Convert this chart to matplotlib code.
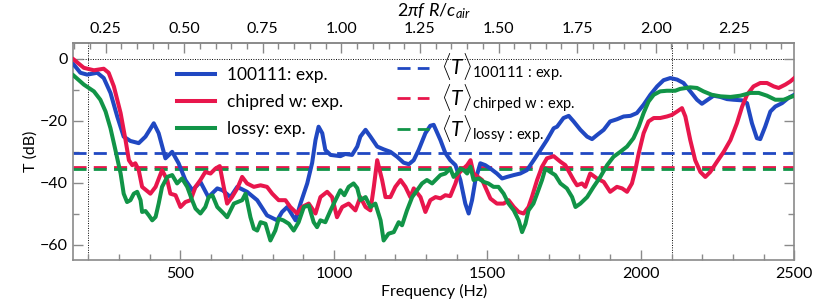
import numpy as np
import matplotlib
matplotlib.use("Agg")
import matplotlib.pyplot as plt
from matplotlib.ticker import MultipleLocator

plt.rcParams['font.family'] = ['Lato', 'DejaVu Sans']
plt.rcParams['mathtext.fontset'] = 'custom'
plt.rcParams['mathtext.rm'] = 'Lato'
plt.rcParams['mathtext.it'] = 'Lato:italic'

# measured transmission (dB) vs frequency (Hz)
f_100111 = [152, 174, 196, 229, 250, 272, 294, 315, 337, 364, 386, 413, 429, 451, 473, 494, 516,
            539, 565, 591, 620, 637, 663, 685, 717, 750, 782, 815, 831, 848, 875, 891, 913, 929,
            940, 950, 962, 972, 989, 1005, 1021, 1037, 1059, 1076, 1086, 1103, 1119, 1141, 1162,
            1184, 1206, 1227, 1244, 1260, 1276, 1298, 1314, 1325, 1347, 1363, 1379, 1396, 1412,
            1428, 1439, 1450, 1461, 1477, 1493, 1510, 1531, 1548, 1564, 1586, 1607, 1629, 1651,
            1673, 1694, 1716, 1727, 1748, 1765, 1781, 1803, 1825, 1841, 1857, 1879, 1900, 1922,
            1944, 1966, 1987, 2009, 2031, 2053, 2074, 2096, 2118, 2139, 2161, 2183, 2199, 2215,
            2237, 2259, 2281, 2302, 2330, 2346, 2362, 2378, 2389, 2405, 2422, 2438, 2460, 2481,
            2500]
T_100111 = [-1.9, -4.6, -5.2, -4.6, -6.3, -11.1, -18.7, -25.2, -26.6, -27.3, -25.2, -20.9, -24.1,
            -32.2, -30.1, -33.8, -39.2, -42.5, -39.8, -44.7, -41.9, -42.5, -44.7, -41.4, -43.0,
            -45.7, -50.6, -52.2, -49.5, -47.9, -52.2, -46.8, -40.3, -33.7, -26.3, -22.0, -24.1,
            -29.5, -31.1, -31.3, -31.5, -30.8, -31.1, -28.4, -25.2, -23.0, -25.2, -28.4, -29.3,
            -30.1, -31.7, -33.6, -34.1, -32.8, -29.5, -24.1, -21.7, -21.4, -26.3, -30.5, -32.8,
            -34.4, -39.2, -46.8, -50.0, -45.7, -39.2, -33.8, -34.4, -35.5, -37.1, -38.7, -38.2,
            -37.6, -37.1, -36.0, -32.8, -29.5, -26.3, -22.5, -22.0, -19.2, -18.5, -20.3, -23.0,
            -25.2, -26.0, -24.7, -23.0, -20.3, -19.6, -18.7, -18.5, -17.6, -14.9, -11.7, -9.0,
            -7.0, -6.3, -6.8, -7.9, -10.6, -13.3, -14.6, -13.5, -12.0, -12.4, -13.1, -13.3,
            -13.5, -14.4, -20.9, -25.7, -26.0, -22.0, -17.1, -15.5, -14.4, -12.7, -11.7]

f_chirped = [152, 185, 218, 250, 266, 283, 305, 321, 332, 343, 353, 364, 375, 402, 419, 440, 457,
             467, 484, 500, 516, 533, 549, 565, 581, 598, 614, 628, 641, 652, 668, 685, 701, 717,
             739, 761, 782, 799, 820, 842, 858, 880, 896, 918, 940, 956, 978, 994, 1010, 1027,
             1048, 1070, 1086, 1103, 1119, 1130, 1141, 1157, 1168, 1184, 1200, 1217, 1233, 1249,
             1260, 1282, 1298, 1314, 1331, 1347, 1363, 1379, 1396, 1406, 1417, 1434, 1445, 1455,
             1483, 1493, 1510, 1531, 1553, 1569, 1586, 1602, 1618, 1634, 1645, 1662, 1678, 1694,
             1716, 1738, 1754, 1781, 1792, 1808, 1819, 1835, 1857, 1879, 1900, 1922, 1939, 1955,
             1971, 1982, 1993, 2009, 2025, 2042, 2063, 2085, 2101, 2118, 2134, 2145, 2161, 2177,
             2194, 2210, 2226, 2248, 2270, 2292, 2313, 2330, 2346, 2367, 2389, 2411, 2433, 2449,
             2471, 2487, 2500]
T_chirped = [-0.3, -3.0, -3.8, -3.3, -4.6, -9.0, -17.6, -26.3, -32.8, -34.4, -33.8, -36.0, -41.4,
             -43.6, -41.4, -36.0, -39.2, -43.6, -44.1, -47.9, -46.3, -45.7, -41.4, -39.2, -36.6,
             -37.1, -35.5, -34.7, -41.4, -46.8, -44.7, -41.9, -38.2, -40.3, -41.4, -40.9, -41.4,
             -43.6, -45.7, -45.7, -47.9, -50.0, -47.9, -46.8, -50.0, -44.7, -43.0, -44.7, -51.2,
             -47.9, -46.8, -49.0, -44.7, -47.9, -49.0, -41.4, -32.8, -39.2, -44.7, -44.7, -41.4,
             -39.2, -41.4, -44.7, -41.9, -44.7, -49.5, -45.7, -44.7, -45.1, -44.1, -44.4, -40.3,
             -37.1, -36.0, -34.4, -32.8, -37.1, -39.2, -41.4, -45.2, -46.8, -46.8, -45.7, -47.9,
             -49.5, -50.0, -47.9, -44.7, -39.2, -34.9, -32.2, -31.5, -33.3, -34.4, -39.2, -40.9,
             -40.3, -41.4, -37.1, -38.7, -39.8, -43.0, -41.4, -41.9, -43.0, -40.3, -36.0, -30.6,
             -24.1, -20.3, -19.2, -19.2, -18.7, -18.2, -17.1, -16.0, -18.7, -26.3, -32.8, -36.6,
             -38.2, -36.6, -33.3, -30.1, -26.3, -20.9, -15.5, -11.7, -9.0, -7.9, -7.9, -9.0, -9.5,
             -8.4, -7.4, -6.3]

f_lossy = [152, 185, 218, 239, 256, 272, 288, 305, 315, 326, 337, 348, 359, 370, 375, 386, 397,
           408, 419, 429, 440, 457, 473, 489, 505, 522, 538, 549, 565, 581, 592, 604, 620, 641,
           652, 674, 701, 712, 728, 739, 750, 761, 777, 793, 809, 820, 835, 853, 869, 885, 902,
           918, 934, 945, 956, 972, 989, 1005, 1021, 1034, 1048, 1064, 1076, 1086, 1103, 1119,
           1135, 1152, 1162, 1178, 1195, 1211, 1222, 1238, 1255, 1271, 1287, 1303, 1320, 1331,
           1347, 1363, 1379, 1390, 1401, 1412, 1423, 1434, 1445, 1455, 1471, 1488, 1503, 1520,
           1536, 1553, 1569, 1586, 1602, 1613, 1624, 1634, 1650, 1662, 1678, 1689, 1705, 1721,
           1738, 1759, 1776, 1787, 1803, 1825, 1846, 1868, 1890, 1911, 1933, 1955, 1976, 1993,
           2009, 2025, 2042, 2063, 2085, 2112, 2128, 2161, 2183, 2204, 2231, 2259, 2292, 2324,
           2357, 2384, 2411, 2438, 2465, 2500]
T_lossy = [-5.5, -8.4, -10.6, -13.3, -17.1, -22.5, -29.5, -37.1, -43.6, -46.3, -45.7, -43.6, -43.0,
           -45.7, -49.5, -49.2, -50.6, -52.2, -51.1, -46.8, -41.4, -38.2, -37.6, -40.3, -38.7,
           -41.4, -45.7, -48.4, -50.0, -47.9, -44.7, -44.1, -47.9, -50.0, -51.2, -46.8, -45.7,
           -43.6, -51.2, -54.9, -55.5, -52.8, -53.3, -58.7, -55.5, -51.7, -52.2, -53.3, -55.5,
           -52.8, -47.9, -47.4, -52.8, -54.4, -52.2, -52.8, -49.0, -45.7, -42.5, -44.1, -41.4,
           -40.3, -41.8, -45.7, -44.7, -47.9, -46.8, -52.2, -58.7, -56.5, -56.0, -52.8, -53.8,
           -49.0, -44.7, -42.5, -40.3, -39.2, -40.3, -39.2, -37.6, -37.1, -35.5, -38.2, -37.1,
           -35.5, -36.0, -37.1, -34.9, -39.2, -38.7, -39.8, -40.3, -41.4, -41.4, -43.6, -46.8,
           -49.0, -52.2, -56.0, -53.3, -49.0, -46.8, -43.6, -39.2, -35.5, -36.6, -37.6, -40.3,
           -41.9, -44.7, -47.9, -46.8, -44.7, -41.4, -38.2, -34.4, -31.7, -30.1, -28.4, -25.7,
           -22.0, -17.6, -13.9, -11.7, -10.6, -10.4, -10.4, -9.8, -9.3, -9.5, -10.6, -11.7,
           -12.2, -12.4, -12.0, -11.1, -11.1, -12.0, -13.3, -13.3, -12.0]

# frequency-averaged transmission
mean_100111 = -30.5
mean_chirped = -35.1
mean_lossy = -35.8

blue = '#2048c2'
red = '#e8164c'
green = '#119447'

R = 0.0533
c_air = 343.0

fig = plt.figure(figsize=(8.3, 3.05), dpi=100)
ax = fig.add_axes([0.088, 0.1475, 0.869, 0.7115])

lw = 2.9
l1, = ax.plot(f_100111, T_100111, color=blue, lw=lw, solid_joinstyle='round', label='100111: exp.', zorder=3)
l2, = ax.plot(f_chirped, T_chirped, color=red, lw=lw, solid_joinstyle='round', label='chipred w: exp.', zorder=3)
l3, = ax.plot(f_lossy, T_lossy, color=green, lw=lw, solid_joinstyle='round', label='lossy: exp.', zorder=3)

dash = (4.7, 2.6)
d1 = ax.axhline(mean_100111, color=blue, lw=2.0, dashes=dash, zorder=2)
d2 = ax.axhline(mean_chirped, color=red, lw=2.0, dashes=dash, zorder=2)
d3 = ax.axhline(mean_lossy, color=green, lw=2.0, dashes=dash, zorder=2)

ax.axhline(0, color='black', lw=0.7, ls=(0, (1, 1.5)), zorder=1)
ax.axvline(200, color='black', lw=0.7, ls=(0, (1, 1.5)), zorder=1)
ax.axvline(2100, color='black', lw=0.7, ls=(0, (1, 1.5)), zorder=1)

ax.set_xlim(150, 2500)
ax.set_ylim(-65, 5)
ax.set_xlabel('Frequency (Hz)', fontsize=11.5, labelpad=2)
ax.set_ylabel('T (dB)', fontsize=11.5, labelpad=2)
ax.xaxis.set_major_locator(MultipleLocator(500))
ax.xaxis.set_minor_locator(MultipleLocator(100))
ax.yaxis.set_major_locator(MultipleLocator(20))
ax.yaxis.set_minor_locator(MultipleLocator(10))

frame = '#8a8a8a'
for s in ax.spines.values():
    s.set_color(frame)
    s.set_linewidth(1.2)
ax.tick_params(which='both', direction='in', color=frame, labelsize=11.5, right=True, width=1.0)
ax.tick_params(which='major', length=7)
ax.tick_params(which='minor', length=4)
ax.tick_params(axis='x', pad=5)

top = ax.secondary_xaxis('top', functions=(lambda f: 2 * np.pi * f * R / c_air,
                                           lambda k: k * c_air / (2 * np.pi * R)))
top.xaxis.set_major_locator(MultipleLocator(0.25))
top.xaxis.set_minor_locator(MultipleLocator(0.05))
top.xaxis.set_major_formatter(matplotlib.ticker.FormatStrFormatter('%.2f'))
top.tick_params(which='both', direction='in', color=frame, labelsize=11.5, width=1.0, pad=5)
top.tick_params(which='major', length=7)
top.tick_params(which='minor', length=4)
top.spines['top'].set_color(frame)
top.spines['top'].set_linewidth(1.2)
top.set_xlabel(r'$2\pi f\ R/c_{air}$', fontsize=13, labelpad=4)

leg1 = ax.legend(handles=[l1, l2, l3], loc='upper left', bbox_to_anchor=(0.134, 0.92),
                 frameon=False, fontsize=12.5, handlelength=2.2, handletextpad=0.7,
                 labelspacing=0.62, borderaxespad=0)
ax.add_artist(leg1)
ax.legend(handles=[d1, d2, d3],
          labels=[r'$\langle T\rangle_{\mathrm{100111\,:\,exp.}}$',
                  r'$\langle T\rangle_{\mathrm{chirped\ w\,:\,exp.}}$',
                  r'$\langle T\rangle_{\mathrm{lossy\,:\,exp.}}$'],
          loc='upper left', bbox_to_anchor=(0.437, 1.0), frameon=False, fontsize=15,
          handlelength=1.55, handletextpad=0.6, labelspacing=-0.06, borderaxespad=0)

fig.savefig('out.png', dpi=100)
